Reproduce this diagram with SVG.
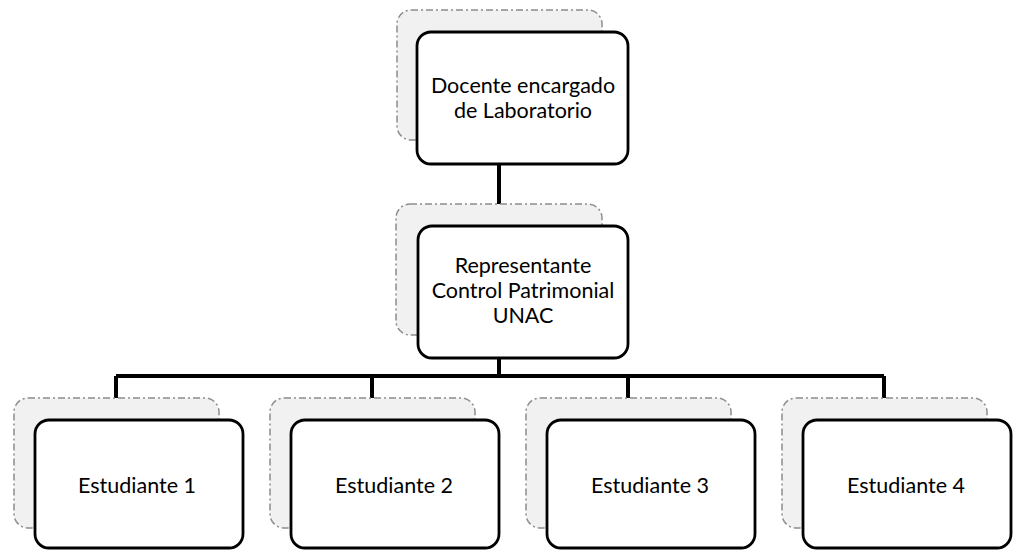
<svg xmlns="http://www.w3.org/2000/svg" width="1015" height="550" viewBox="0 0 1015 550">
<defs>
<style>
.bg{fill:#f1f1f1;stroke:#8c8c8c;stroke-width:1.5;stroke-dasharray:7 3 2 3}
.fg{fill:#ffffff;stroke:#000000;stroke-width:2.8}
.t{font-family:Lato,"Open Sans","Liberation Sans",sans-serif;font-size:21.5px;fill:#000;text-anchor:middle}
.c{stroke:#000;stroke-width:4;fill:none}
</style>
</defs>
<rect width="1015" height="550" fill="#ffffff"/>
<g id="connectors">
<line class="c" x1="499" y1="164" x2="499" y2="204"/>
<line class="c" x1="499" y1="358" x2="499" y2="376"/>
<line class="c" x1="116" y1="376" x2="884" y2="376"/>
<line class="c" x1="116" y1="376" x2="116" y2="398"/>
<line class="c" x1="372" y1="376" x2="372" y2="398"/>
<line class="c" x1="628" y1="376" x2="628" y2="398"/>
<line class="c" x1="884" y1="376" x2="884" y2="398"/>
</g>
<g id="node-docente">
<rect class="bg" x="397" y="10" width="205" height="130" rx="14"/>
<rect class="fg" x="417" y="32" width="211" height="132" rx="14"/>
<text class="t" x="523" y="93">Docente encargado</text>
<text class="t" x="523" y="118">de Laboratorio</text>
</g>
<g id="node-representante">
<rect class="bg" x="396" y="204" width="206" height="131" rx="14"/>
<rect class="fg" x="418" y="226" width="210" height="132" rx="14"/>
<text class="t" x="523" y="273">Representante</text>
<text class="t" x="523" y="298">Control Patrimonial</text>
<text class="t" x="523" y="323">UNAC</text>
</g>
<g id="node-estudiante1">
<rect class="bg" x="14" y="398" width="205" height="130" rx="14"/>
<rect class="fg" x="35" y="420" width="208" height="128" rx="14"/>
<text class="t" x="137" y="493">Estudiante 1</text>
</g>
<g id="node-estudiante2">
<rect class="bg" x="270" y="398" width="205" height="130" rx="14"/>
<rect class="fg" x="291" y="420" width="208" height="128" rx="14"/>
<text class="t" x="394" y="493">Estudiante 2</text>
</g>
<g id="node-estudiante3">
<rect class="bg" x="526" y="398" width="205" height="130" rx="14"/>
<rect class="fg" x="547" y="420" width="208" height="128" rx="14"/>
<text class="t" x="650" y="493">Estudiante 3</text>
</g>
<g id="node-estudiante4">
<rect class="bg" x="782" y="398" width="205" height="130" rx="14"/>
<rect class="fg" x="803" y="420" width="208" height="128" rx="14"/>
<text class="t" x="906" y="493">Estudiante 4</text>
</g>
</svg>
